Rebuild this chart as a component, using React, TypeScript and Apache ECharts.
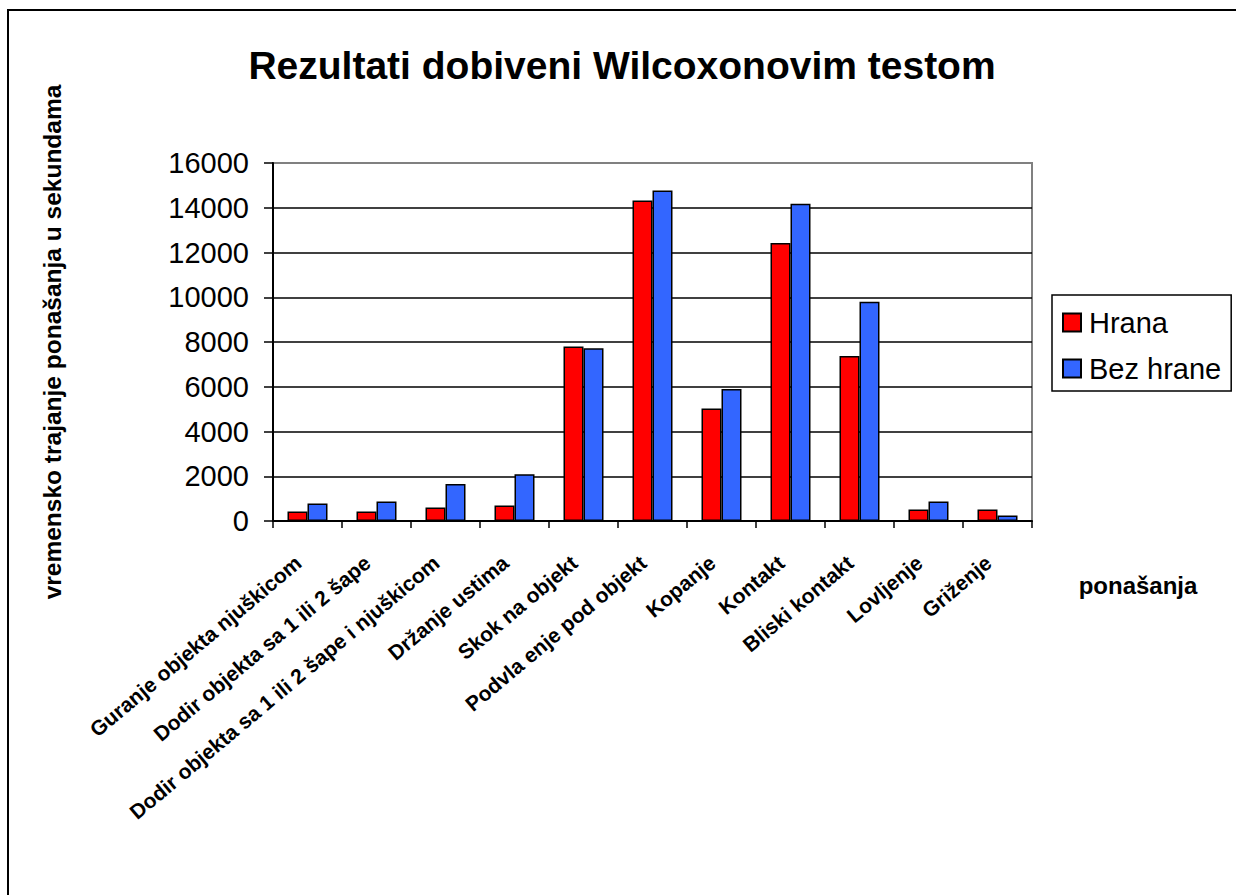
import React, { useEffect, useRef } from "react";
import * as echarts from "echarts";

const categories = [
  "Guranje objekta njuškicom",
  "Dodir objekta sa 1 ili 2 šape",
  "Dodir objekta sa 1 ili 2 šape i njuškicom",
  "Držanje ustima",
  "Skok na objekt",
  "Podvla enje pod objekt",
  "Kopanje",
  "Kontakt",
  "Bliski kontakt",
  "Lovljenje",
  "Griženje",
];
const hranaValues = [430, 430, 600, 690, 7800, 14320, 5030, 12420, 7370, 510, 510];
const bezHraneValues = [780, 870, 1650, 2090, 7720, 14770, 5900, 14180, 9800, 870, 250];
const seriesNames = ["Hrana", "Bez hrane"];
const titleText = "Rezultati dobiveni Wilcoxonovim testom";
const yAxisTitle = "vremensko trajanje ponašanja u sekundama";
const xAxisTitle = "ponašanja";

const FONT = "'Liberation Sans', Arial, sans-serif";

export default function App() {
  const ref = useRef<HTMLDivElement>(null);
  useEffect(() => {
    if (!ref.current) return;
    const chart = echarts.init(ref.current, undefined, { renderer: "svg" });
    const splitColors = ["#000", "#000", "#000", "#000", "#000", "#000", "#000", "#000", "#808080"];
    chart.setOption({
      animation: false,
      backgroundColor: "#fff",
      textStyle: { fontFamily: FONT },
      grid: {
        left: 273,
        right: 204,
        top: 163,
        bottom: 374,
        show: true,
        borderColor: "#808080",
        borderWidth: 2,
        backgroundColor: "transparent",
      },
      legend: {
        orient: "vertical",
        left: 1052,
        top: 295,
        padding: [13, 10, 8, 10],
        itemGap: 17,
        itemWidth: 18,
        itemHeight: 18,
        icon: "rect",
        borderColor: "#000",
        borderWidth: 1.5,
        textStyle: { fontSize: 29, color: "#000", fontFamily: FONT, padding: [0, 0, 0, 3] },
        data: seriesNames,
      },
      xAxis: {
        type: "category",
        data: categories,
        boundaryGap: true,
        axisLine: { show: true, lineStyle: { color: "#000", width: 2 } },
        axisTick: { show: true, length: 7, lineStyle: { color: "#000", width: 1.5 } },
        axisLabel: {
          interval: 0,
          rotate: 40,
          margin: 31,
          padding: [0, 12, 0, 0],
          fontSize: 21,
          fontWeight: "bold",
          color: "#000",
          fontFamily: FONT,
        },
      },
      yAxis: {
        type: "value",
        min: 0,
        max: 16000,
        interval: 2000,
        axisLine: { show: true, lineStyle: { color: "#000", width: 2 } },
        axisTick: { show: true, length: 9, lineStyle: { color: "#000", width: 1.5 } },
        axisLabel: {
          fontSize: 29,
          color: "#000",
          margin: 24,
          fontFamily: FONT,
          formatter: (v: number) => String(v),
        },
        splitLine: { show: true, lineStyle: { color: splitColors, width: 1.5 } },
      },
      series: [
        {
          name: seriesNames[0],
          type: "bar",
          data: hranaValues,
          barWidth: 20,
          barGap: "0%",
          itemStyle: { color: "#FF0000", borderColor: "#000", borderWidth: 1.5 },
        },
        {
          name: seriesNames[1],
          type: "bar",
          data: bezHraneValues,
          barWidth: 20,
          barGap: "0%",
          itemStyle: { color: "#3366FF", borderColor: "#000", borderWidth: 1.5 },
        },
      ],
      graphic: [
        {
          type: "rect",
          shape: { x: 8, y: 10, width: 1260, height: 920 },
          style: { fill: "none", stroke: "#000", lineWidth: 2 },
          silent: true,
        },
        {
          type: "text",
          x: 622,
          y: 65,
          style: {
            text: titleText,
            fontSize: 39,
            fontWeight: "bold",
            fontFamily: FONT,
            fill: "#000",
            align: "center",
            verticalAlign: "middle",
          },
        },
        {
          type: "text",
          x: 52,
          y: 342,
          rotation: Math.PI / 2,
          style: {
            text: yAxisTitle,
            fontSize: 24.5,
            fontWeight: "bold",
            fontFamily: FONT,
            fill: "#000",
            align: "center",
            verticalAlign: "middle",
          },
        },
        {
          type: "text",
          x: 1138,
          y: 585,
          style: {
            text: xAxisTitle,
            fontSize: 24,
            fontWeight: "bold",
            fontFamily: FONT,
            fill: "#000",
            align: "center",
            verticalAlign: "middle",
          },
        },
      ],
    });
    return () => chart.dispose();
  }, []);
  return (
    <div
      ref={ref}
      style={{ position: "absolute", left: 0, top: 0, width: 1236, height: 895 }}
    />
  );
}
